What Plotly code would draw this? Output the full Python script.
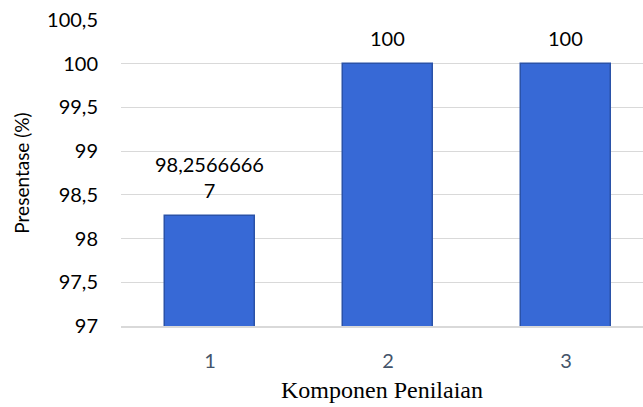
import plotly.graph_objects as go

# Chart data
categories = ["1", "2", "3"]
values = [98.25666667, 100, 100]
y_ticks = [97, 97.5, 98, 98.5, 99, 99.5, 100, 100.5]
y_tick_labels = ["97", "97,5", "98", "98,5", "99", "99,5", "100", "100,5"]


def fmt_label(v, width=10):
    s = f"{v:.8f}".rstrip("0").rstrip(".").replace(".", ",")
    parts = [s[i:i + width] for i in range(0, len(s), width)]
    return "<br>".join(parts)


labels = [fmt_label(v) for v in values]

SANS = "Lato, Carlito, sans-serif"

fig = go.Figure()
fig.add_trace(go.Bar(
    x=categories,
    y=values,
    base=0,
    width=0.506,
    marker=dict(color="#3769d6", line=dict(color="#2a52a8", width=1.5)),
    showlegend=False,
    hoverinfo="skip",
))

# value labels above each bar (category axis positions are indices)
for i, (v, t) in enumerate(zip(values, labels)):
    fig.add_annotation(
        x=i, y=v, text=t, showarrow=False,
        yanchor="bottom", yshift=12,
        font=dict(family=SANS, size=20, color="#000000"),
    )

fig.update_layout(
    width=643, height=407,
    margin=dict(l=121, r=0, t=20, b=81),
    paper_bgcolor="white",
    plot_bgcolor="white",
    font=dict(family=SANS, size=20, color="#262626"),
    bargap=0,
)

fig.update_xaxes(
    type="category",
    range=[-0.5, 2.433],
    showgrid=False,
    showline=True, linecolor="#d9d9d9", linewidth=1.5,
    ticks="", ticklabelstandoff=16,
    tickfont=dict(family=SANS, size=20, color="#44546a"),
    title=dict(text="Komponen Penilaian",
               font=dict(family="Liberation Serif, Times New Roman, serif", size=24, color="#000000"),
               standoff=10),
)

fig.update_yaxes(
    range=[97, 100.5],
    tickvals=y_ticks, ticktext=y_tick_labels,
    showgrid=True, gridcolor="#d9d9d9", gridwidth=1,
    zeroline=False, showline=False,
    ticks="", ticklabelstandoff=22,
    tickfont=dict(family=SANS, size=20, color="#000000"),
    title=dict(text="Presentase (%)",
               font=dict(family=SANS, size=19, color="#000000"),
               standoff=12),
)

fig.write_html("out.html")
